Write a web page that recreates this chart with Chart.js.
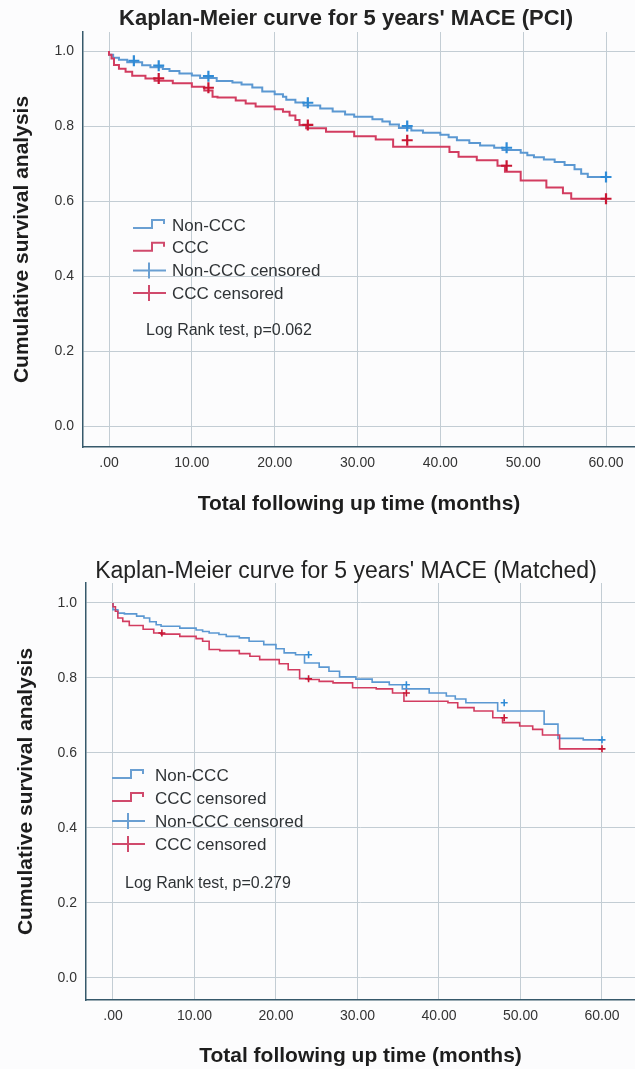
<!DOCTYPE html>
<html>
<head>
<meta charset="utf-8">
<script src="https://cdn.jsdelivr.net/npm/chart.js@4.4.0/dist/chart.umd.min.js"></script>
<style>
  body { margin: 0; background: #fcfcfd; }
  canvas { display: block; }
</style>
</head>
<body>
<canvas id="pciChart" width="635" height="520"></canvas>
<canvas id="matchedChart" width="635" height="549"></canvas>
<script>
// axis ticks
let xTicks = [0, 10, 20, 30, 40, 50, 60];
let yTicks = [0, 0.2, 0.4, 0.6, 0.8, 1.0];

// PCI chart (top)
let pciNonCccTime = [0, 0.5, 1.2, 2.2, 4.0, 5.0, 6.5, 7.3, 8.5, 10.0, 11.0, 13.0, 14.9, 16.0, 17.3, 18.5, 20.0, 21.0, 21.4, 22.5, 23.5, 25.5, 27.0, 28.5, 29.6, 31.8, 33.0, 33.9, 35.0, 36.5, 37.9, 40.0, 41.0, 42.0, 43.5, 44.8, 46.5, 47.5, 49.7, 50.5, 51.3, 52.5, 53.8, 55.0, 56.2, 57.0, 57.8, 59.6, 60];
let pciNonCccSurv = [1, 0.990, 0.982, 0.977, 0.970, 0.962, 0.957, 0.952, 0.947, 0.940, 0.935, 0.928, 0.920, 0.916, 0.911, 0.903, 0.892, 0.885, 0.878, 0.870, 0.863, 0.855, 0.847, 0.839, 0.831, 0.825, 0.818, 0.812, 0.804, 0.795, 0.788, 0.782, 0.777, 0.770, 0.762, 0.755, 0.748, 0.742, 0.736, 0.729, 0.722, 0.717, 0.711, 0.704, 0.696, 0.685, 0.673, 0.664, 0.664];
let pciCccTime = [0, 0.3, 0.6, 1.2, 2.0, 2.8, 4.4, 5.5, 7.7, 10.0, 11.5, 12.5, 13.1, 15.3, 16.5, 17.7, 20.0, 21.0, 21.8, 22.5, 23.0, 23.8, 26.2, 29.6, 32.2, 34.3, 41.1, 42.2, 44.4, 46.9, 47.8, 49.7, 52.8, 54.8, 55.8, 59.8, 60];
let pciCccSurv = [1, 0.990, 0.980, 0.963, 0.953, 0.945, 0.934, 0.927, 0.921, 0.914, 0.905, 0.895, 0.878, 0.876, 0.868, 0.860, 0.852, 0.845, 0.838, 0.828, 0.816, 0.803, 0.794, 0.785, 0.773, 0.764, 0.745, 0.731, 0.718, 0.709, 0.694, 0.678, 0.655, 0.636, 0.621, 0.606, 0.606];
let pciNonCccCensTime = [3, 6, 12, 24, 36, 48, 60];
let pciNonCccCensSurv = [0.974, 0.961, 0.933, 0.862, 0.800, 0.742, 0.664];
let pciCccCensTime = [6, 12, 24, 36, 48, 60];
let pciCccCensSurv = [0.927, 0.902, 0.803, 0.762, 0.694, 0.606];
let pciLabels = ["Non-CCC", "CCC", "Non-CCC censored", "CCC censored"];

// Matched chart (bottom)
let mNonCccTime = [0, 0.6, 1.4, 2.9, 3.8, 4.5, 5.3, 5.9, 8.2, 10.2, 11.0, 11.8, 13.0, 13.9, 15.5, 16.7, 18.5, 20.0, 21.0, 22.4, 23.5, 25.3, 26.5, 27.8, 29.8, 31.8, 33.9, 35.5, 38.8, 40.9, 42.0, 43.3, 47.2, 52.9, 54.6, 57.7, 60];
let mNonCccSurv = [1, 0.982, 0.973, 0.971, 0.965, 0.960, 0.950, 0.942, 0.938, 0.933, 0.928, 0.924, 0.920, 0.916, 0.911, 0.907, 0.898, 0.889, 0.878, 0.867, 0.862, 0.840, 0.829, 0.818, 0.803, 0.797, 0.789, 0.782, 0.771, 0.760, 0.752, 0.744, 0.734, 0.712, 0.677, 0.639, 0.635];
let mCccTime = [0, 0.3, 0.6, 1.2, 2.0, 3.7, 5.0, 5.9, 8.2, 10.2, 11.0, 11.8, 13.1, 15.5, 16.8, 18.0, 20.4, 21.5, 22.9, 23.9, 25.3, 27.0, 29.4, 32.3, 34.3, 35.7, 41.1, 42.3, 44.3, 46.6, 47.8, 49.9, 51.5, 52.7, 54.8, 55.4, 60];
let mCccSurv = [1, 0.990, 0.978, 0.960, 0.951, 0.940, 0.930, 0.920, 0.917, 0.911, 0.905, 0.898, 0.876, 0.873, 0.865, 0.858, 0.849, 0.838, 0.822, 0.798, 0.796, 0.791, 0.787, 0.774, 0.771, 0.760, 0.738, 0.734, 0.721, 0.712, 0.694, 0.681, 0.672, 0.663, 0.648, 0.611, 0.611];
let mNonCccCensTime = [24, 36, 48, 60];
let mNonCccCensSurv = [0.862, 0.782, 0.734, 0.635];
let mCccCensTime = [6, 24, 36, 48, 60];
let mCccCensSurv = [0.920, 0.798, 0.760, 0.694, 0.611];
let mLabels = ["Non-CCC", "CCC censored", "Non-CCC censored", "CCC censored"];

const FONT = "'Liberation Sans', Arial, sans-serif";
Chart.defaults.font.family = FONT;

function pts(ts, ss) {
  return ts.map((t, i) => ({ x: t, y: ss[i] }));
}

// title, legend box and log rank note drawn inside the chart
const decor = {
  id: "decor",
  afterDraw(chart, args, o) {
    const ctx = chart.ctx;
    ctx.save();
    ctx.fillStyle = "#232323";
    ctx.font = o.titleFont;
    ctx.textAlign = "center";
    ctx.textBaseline = "middle";
    ctx.fillText(o.title, o.titleX, o.titleY);

    ctx.font = "17px " + FONT;
    ctx.textAlign = "left";
    chart.data.datasets.forEach((ds, i) => {
      const x = o.legendX, y = o.legendY + i * o.legendGap;
      ctx.strokeStyle = ds.legendColor;
      ctx.lineWidth = 2;
      ctx.beginPath();
      if (ds.showLine) {
        ctx.moveTo(x, y + 3);
        ctx.lineTo(x + 19, y + 3);
        ctx.lineTo(x + 19, y - 5);
        ctx.lineTo(x + 31, y - 5);
        ctx.lineTo(x + 31, y - 1);
      } else {
        ctx.moveTo(x, y);
        ctx.lineTo(x + 33, y);
        ctx.moveTo(x + 16, y - 8);
        ctx.lineTo(x + 16, y + 8);
      }
      ctx.stroke();
      ctx.fillStyle = "#2f3336";
      ctx.fillText(ds.label, x + o.textGap, y + 1);
    });
    ctx.font = "16px " + FONT;
    ctx.fillText(o.note, o.noteX, o.noteY);
    ctx.restore();
  },
};

function makeChart(id, d) {
  const blue = "#5b98d2", red = "#d23c60";
  return new Chart(document.getElementById(id), {
    type: "scatter",
    data: {
      datasets: [
        {
          label: d.labels[0], data: pts(d.nTime, d.nSurv), showLine: true, stepped: "after",
          borderColor: blue, borderWidth: d.lw, pointRadius: 0, order: 2, legendColor: "#6a9fd2",
        },
        {
          label: d.labels[1], data: pts(d.cTime, d.cSurv), showLine: true, stepped: "after",
          borderColor: red, borderWidth: d.lw, pointRadius: 0, order: 1, legendColor: "#d04a6c",
        },
        {
          label: d.labels[2], data: pts(d.ncTime, d.ncSurv), showLine: false,
          pointStyle: "cross", pointRadius: d.cr, borderWidth: d.cw, borderColor: "#2f8bd6", order: 0,
          legendColor: "#6a9fd2",
        },
        {
          label: d.labels[3], data: pts(d.ccTime, d.ccSurv), showLine: false,
          pointStyle: "cross", pointRadius: d.cr, borderWidth: d.cw, borderColor: "#c81633", order: 0,
          legendColor: "#d04a6c",
        },
      ],
    },
    plugins: [decor],
    options: {
      responsive: false,
      animation: false,
      layout: { autoPadding: false, padding: { top: d.top, left: 0, right: 0, bottom: 0 } },
      plugins: {
        legend: { display: false },
        tooltip: { enabled: false },
        decor: d.decor,
      },
      scales: {
        x: {
          type: "linear",
          min: d.xMin,
          max: d.xMax,
          afterBuildTicks: (s) => { s.ticks = xTicks.map((v) => ({ value: v })); },
          afterFit: (s) => {
            s.height = d.xAxisH;
            s.paddingLeft = 0;
            s.paddingRight = 0;
          },
          border: { color: "#36596b", width: 1.5 },
          grid: { color: "#c3cdd4", drawTicks: false },
          ticks: {
            padding: 8,
            color: "#333",
            font: { size: 14 },
            maxRotation: 0,
            callback: (v) => (v === 0 ? ".00" : v.toFixed(2)),
          },
          title: {
            display: true,
            text: "Total following up time (months)",
            color: "#1d1d1d",
            font: { size: 21, weight: "bold" },
            padding: { top: 0, bottom: d.xTitlePad },
          },
        },
        y: {
          min: d.yMin,
          max: d.yMax,
          afterBuildTicks: (s) => { s.ticks = yTicks.map((v) => ({ value: v })); },
          afterFit: (s) => {
            s.width = d.axisLeft;
            s.paddingTop = 0;
            s.paddingBottom = 0;
          },
          border: { color: "#36596b", width: 1.5 },
          grid: { color: "#c3cdd4", drawTicks: false },
          ticks: {
            padding: 9,
            color: "#333",
            font: { size: 14 },
            callback: (v) => v.toFixed(1),
          },
          title: {
            display: true,
            text: "Cumulative survival analysis",
            color: "#1d1d1d",
            font: { size: 21, weight: "bold" },
            padding: { top: d.yTitlePad, bottom: 0 },
          },
        },
      },
    },
  });
}

makeChart("pciChart", {
  labels: pciLabels,
  nTime: pciNonCccTime, nSurv: pciNonCccSurv,
  cTime: pciCccTime, cSurv: pciCccSurv,
  ncTime: pciNonCccCensTime, ncSurv: pciNonCccCensSurv,
  ccTime: pciCccCensTime, ccSurv: pciCccCensSurv,
  lw: 2, cr: 5.5, cw: 2.2,
  top: 32, axisLeft: 83, xAxisH: 73,
  xMin: -3.14, xMax: 63.5, yMin: -0.056, yMax: 1.0507,
  xTitlePad: 3, yTitlePad: 10,
  decor: {
    title: "Kaplan-Meier curve for 5 years' MACE (PCI)",
    titleFont: "bold 22px " + FONT, titleX: 346, titleY: 19,
    legendX: 133, legendY: 225, legendGap: 22.7, textGap: 39,
    note: "Log Rank test, p=0.062", noteX: 146, noteY: 331,
  },
});

makeChart("matchedChart", {
  labels: mLabels,
  nTime: mNonCccTime, nSurv: mNonCccSurv,
  cTime: mCccTime, cSurv: mCccSurv,
  ncTime: mNonCccCensTime, ncSurv: mNonCccCensSurv,
  ccTime: mCccCensTime, ccSurv: mCccCensSurv,
  lw: 1.6, cr: 3.5, cw: 1.6,
  top: 63, axisLeft: 86, xAxisH: 69,
  xMin: -3.31, xMax: 64.05, yMin: -0.0587, yMax: 1.0533,
  xTitlePad: 0, yTitlePad: 14,
  decor: {
    title: "Kaplan-Meier curve for 5 years' MACE (Matched)",
    titleFont: "23px " + FONT, titleX: 346, titleY: 52,
    legendX: 112, legendY: 255, legendGap: 23, textGap: 43,
    note: "Log Rank test, p=0.279", noteX: 125, noteY: 364,
  },
});
</script>
</body>
</html>
